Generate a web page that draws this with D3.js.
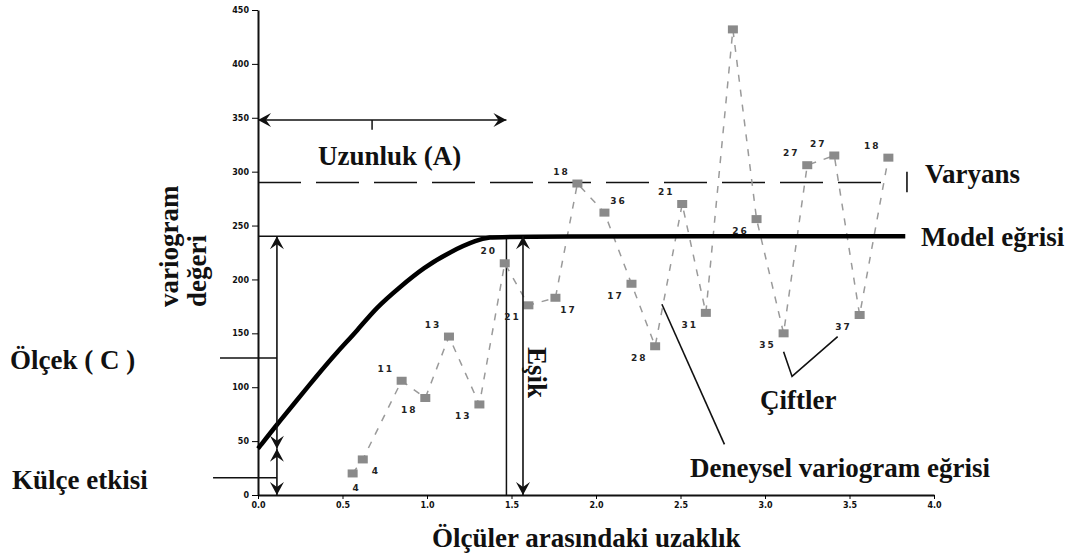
<!DOCTYPE html>
<html>
<head>
<meta charset="utf-8">
<script src="https://cdn.jsdelivr.net/npm/d3@7"></script>
<style>
  body { margin: 0; background: #fff; }
  .lbl { font-family: "Liberation Serif", "Times New Roman", serif; font-weight: bold; font-size: 27px; fill: #111; }
  .axis text { font-family: "DejaVu Sans", sans-serif; font-weight: bold; font-size: 8px; fill: #111; }
  .pair { font-family: "DejaVu Sans", sans-serif; font-weight: bold; font-size: 9px; fill: #222; letter-spacing: 2px; }
</style>
</head>
<body>
<div id="chart"></div>
<script>
// experimental variogram: lag distance, variogram value, number of pairs
var lagValues   = [0.56, 0.62, 0.85, 0.99, 1.13, 1.31, 1.46, 1.60, 1.76, 1.89, 2.05,
                   2.21, 2.35, 2.51, 2.65, 2.81, 2.95, 3.11, 3.25, 3.41, 3.56, 3.73];
var gammaValues = [20, 33, 106, 90, 147, 84, 215, 176, 183, 289, 262,
                   196, 138, 270, 169, 432, 256, 150, 306, 315, 167, 313];
var pairCounts  = ["4", "4", "11", "18", "13", "13", "20", "21", "17", "18", "36",
                   "17", "28", "21", "31", "", "26", "35", "27", "27", "37", "18"];
// where the pair count sits around its point
var labelSide   = ["s", "se", "nw", "sw", "nw", "sw", "nw", "sw", "se", "nw", "ne",
                   "sw", "sw", "nw", "sw", "nw", "sw", "sw", "nw", "nw", "sw", "nw"];

// model curve
var modelLag   = [0, 0.11, 0.21, 0.35, 0.47, 0.59, 0.70, 0.84, 0.98, 1.14, 1.30, 1.37, 1.45, 3.83];
var modelGamma = [43, 65, 84, 111, 133, 153, 174, 193, 211, 226, 237, 239, 240, 240];

var xTicks = [0, 0.5, 1, 1.5, 2, 2.5, 3, 3.5, 4];
var yTicks = [0, 50, 100, 150, 200, 250, 300, 350, 400, 450];

var nugget = 43, sill = 240, variance = 290, rangeA = 1.47;

var svgWidth = 1072, svgHeight = 556;

var svg = d3.select("#chart")
  .append("svg")
  .attr("width", svgWidth)
  .attr("height", svgHeight)
  .style("background", "#fff");

var x = d3.scaleLinear().domain([0, 4]).range([258, 934]);
var y = d3.scaleLinear().domain([0, 450]).range([495, 10]);

// arrow head
svg.append("defs").append("marker")
  .attr("id", "arr")
  .attr("viewBox", "-15 -8 16 16")
  .attr("refX", 0).attr("refY", 0)
  .attr("markerWidth", 16).attr("markerHeight", 16)
  .attr("markerUnits", "userSpaceOnUse")
  .attr("orient", "auto-start-reverse")
  .append("path")
  .attr("d", "M0,0 L-13,-7 L-8,0 L-13,7 Z")
  .attr("fill", "#111");

function line(x1, y1, x2, y2, w) {
  return svg.append("line")
    .attr("x1", x(x1)).attr("y1", y(y1))
    .attr("x2", x(x2)).attr("y2", y(y2))
    .attr("stroke", "#111")
    .attr("stroke-width", w || 1.5);
}
function arrow(x1, y1, x2, y2) {
  return line(x1, y1, x2, y2, 1.6)
    .attr("marker-start", "url(#arr)")
    .attr("marker-end", "url(#arr)");
}

// axes
var leftAxis = d3.axisLeft(y).tickValues(yTicks).tickSize(6).tickSizeOuter(0)
  .tickPadding(3).tickFormat(d3.format("d"));
var bottomAxis = d3.axisBottom(x).tickValues(xTicks).tickSize(4).tickSizeOuter(0)
  .tickPadding(3).tickFormat(d3.format(".1f"));

svg.append("g").attr("class", "axis")
  .attr("transform", "translate(" + x(0) + ",0)")
  .call(leftAxis)
  .call(g => g.select(".domain").attr("stroke", "#111").attr("stroke-width", 2));

svg.append("g").attr("class", "axis")
  .attr("transform", "translate(0," + y(0) + ")")
  .call(bottomAxis)
  .call(g => g.select(".domain").attr("stroke", "#111").attr("stroke-width", 2));

// variance (dashed)
line(0, variance, 3.73, variance, 1.6).attr("stroke-dasharray", "43,15");
line(3.84, 281, 3.84, 300, 1.6);

// sill reference line + range
line(0, sill, 1.45, sill, 1.5);
line(rangeA, 0, rangeA, sill, 1.5);

// experimental variogram
var pts = lagValues.map((d, i) => ({ h: d, g: gammaValues[i], n: pairCounts[i], s: labelSide[i] }));

svg.append("path")
  .datum(pts)
  .attr("fill", "none")
  .attr("stroke", "#9a9a9a")
  .attr("stroke-width", 1.5)
  .attr("stroke-dasharray", "7,8")
  .attr("d", d3.line().x(d => x(d.h)).y(d => y(d.g)));

svg.selectAll(".sq")
  .data(pts)
  .enter()
  .append("rect")
  .attr("class", "sq")
  .attr("x", d => x(d.h) - 5)
  .attr("y", d => y(d.g) - 4)
  .attr("width", 10)
  .attr("height", 8)
  .attr("fill", "#8a8a8a");

var off = { nw: [-16, -12], sw: [-16, 12], ne: [14, -12], se: [13, 12], s: [4, 15] };
svg.selectAll(".pair")
  .data(pts)
  .enter()
  .append("text")
  .attr("class", "pair")
  .attr("x", d => x(d.h) + off[d.s][0])
  .attr("y", d => y(d.g) + off[d.s][1])
  .attr("text-anchor", "middle")
  .attr("dominant-baseline", "central")
  .text(d => d.n);

// model curve
var model = modelLag.map((d, i) => ({ h: d, g: modelGamma[i] }));
svg.append("path")
  .datum(model)
  .attr("fill", "none")
  .attr("stroke", "#000")
  .attr("stroke-width", 4.5)
  .attr("stroke-linejoin", "round")
  .attr("d", d3.line().x(d => x(d.h)).y(d => y(d.g)).curve(d3.curveBasis));

// arrows
arrow(0, 348, rangeA, 348);
line(0.675, 348, 0.675, 339, 1.5);
arrow(0.112, sill, 0.112, nugget);
arrow(0.112, nugget, 0.112, 0);
arrow(1.568, sill, 1.568, 0);

// left marker lines
line(-0.225, 127, 0.112, 127, 1.5);
line(-0.266, 16, 0.112, 16, 1.5);

// pointers
line(2.39, 177, 2.76, 47, 1.6);
svg.append("path")
  .attr("fill", "none").attr("stroke", "#111").attr("stroke-width", 1.6)
  .attr("d", d3.line().x(d => x(d[0])).y(d => y(d[1]))([[3.11, 133], [3.16, 110], [3.43, 147]]));

// texts
function label(t, px, py, rot) {
  var el = svg.append("text").attr("class", "lbl").text(t);
  if (rot) el.attr("transform", "translate(" + px + "," + py + ") rotate(" + rot + ")");
  else el.attr("x", px).attr("y", py);
  return el;
}
label("Uzunluk (A)", 318, 165);
label("Varyans", 925, 183);
label("Model eğrisi", 921, 246);
label("variogram", 178, 307, -90);
label("değeri", 206, 307, -90);
label("Ölçek ( C )", 10, 369);
label("Külçe etkisi", 12, 489);
label("Eşik", 528, 347, 90);
label("Çiftler", 760, 409);
label("Deneysel variogram eğrisi", 690, 477);
label("Ölçüler arasındaki uzaklık", 432, 547);
</script>
</body>
</html>
